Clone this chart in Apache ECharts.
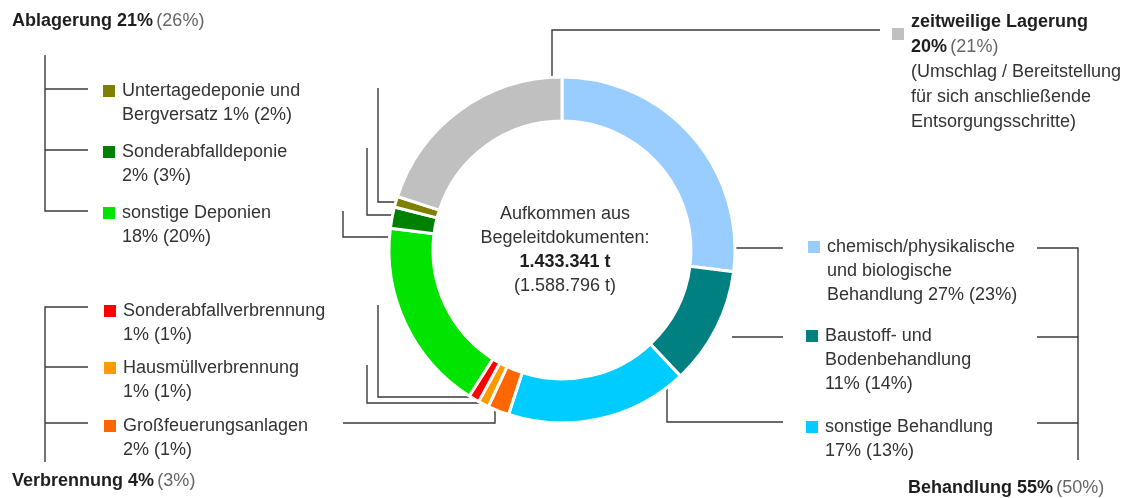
<!DOCTYPE html>
<html>
<head>
<meta charset="utf-8">
<script src="https://cdn.jsdelivr.net/npm/echarts@6/dist/echarts.min.js"></script>
<style>
  html, body { margin: 0; padding: 0; background: #fff; }
  #chart { width: 1131px; height: 498px; }
</style>
</head>
<body>
<div id="chart"></div>
<script>
// Anteile der Entsorgungswege (aktuelles Jahr, in Klammern Vorjahr)
var sliceNames = [
  'chemisch/physikalische und biologische Behandlung',
  'Baustoff- und Bodenbehandlung',
  'sonstige Behandlung',
  'Großfeuerungsanlagen',
  'Hausmüllverbrennung',
  'Sonderabfallverbrennung',
  'sonstige Deponien',
  'Sonderabfalldeponie',
  'Untertagedeponie und Bergversatz',
  'zeitweilige Lagerung'
];
var sliceShares = [27, 11, 17, 2, 1, 1, 18, 2, 1, 20];
var prevShares = [23, 14, 13, 1, 1, 1, 20, 3, 2, 21];
var sliceColors = ['#99ccff', '#008080', '#00ccff', '#ff6600', '#ff9900',
  '#ff0000', '#00e400', '#008000', '#808000', '#c0c0c0'];

// Zeilenumbrüche der Beschriftungen, {p} = Prozentangabe
var labelTemplates = [
  'chemisch/physikalische\nund biologische\nBehandlung {p}',
  'Baustoff- und\nBodenbehandlung\n{p}',
  'sonstige Behandlung\n{p}',
  'Großfeuerungsanlagen\n{p}',
  'Hausmüllverbrennung\n{p}',
  'Sonderabfallverbrennung\n{p}',
  'sonstige Deponien\n{p}',
  'Sonderabfalldeponie\n{p}',
  'Untertagedeponie und\nBergversatz {p}'
];

var groupNames = ['Behandlung', 'Verbrennung', 'Ablagerung'];
var groupShares = [55, 4, 21];
var groupPrev = [50, 3, 26];

var totalNow = '1.433.341 t';
var totalPrev = '1.588.796 t';
var storageNote = ['(Umschlag / Bereitstellung', 'für sich anschließende', 'Entsorgungsschritte)'];

var FONT = '"Liberation Sans", Arial, sans-serif';
var LH = 24;
var TXT = '#333333';
var LINE = '#3a3a3a';

var dom = document.getElementById('chart');
var myChart = echarts.init(dom);

function pct(i) {
  return sliceShares[i] + '% (' + prevShares[i] + '%)';
}

// Position der ersten Textzeile (x, Mitte y) für die Beschriftungen
var labelPos = [[827, 247], [825, 336], [825, 427], [123, 426], [123, 368],
  [123, 311], [122, 213], [122, 152], [122, 91]];

// Verbindungslinien Ring -> Beschriftung
var leaderLines = [
  [[735, 248], [783, 248]],
  [[732, 337], [783, 337]],
  [[667, 388], [667, 422], [783, 422]],
  [[343, 423], [495, 423], [495, 408]],
  [[367, 365], [367, 403], [483, 403]],
  [[378, 305], [378, 397], [470, 397]],
  [[343, 211], [343, 237], [390, 237]],
  [[367, 148], [367, 215], [392, 215]],
  [[378, 88], [378, 202], [399, 202]],
  [[552, 77], [552, 30], [880, 30]]
];

// Klammern der Gruppen
var brackets = [
  [[1037, 248], [1078, 248], [1078, 460]],
  [[1037, 337], [1078, 337]],
  [[1037, 423], [1078, 423]],
  [[88, 307], [45, 307], [45, 462]],
  [[88, 367], [45, 367]],
  [[88, 423], [45, 423]],
  [[45, 55], [45, 211], [88, 211]],
  [[45, 150], [88, 150]],
  [[45, 89], [88, 89]]
];

var graphics = [];

leaderLines.concat(brackets).forEach(function (pts) {
  graphics.push({
    type: 'polyline',
    shape: { points: pts },
    style: { stroke: LINE, lineWidth: 1.4, fill: null },
    silent: true
  });
});

labelTemplates.forEach(function (tpl, i) {
  var p = labelPos[i];
  graphics.push({
    type: 'rect',
    shape: { x: p[0] - 19, y: p[1] - 6, width: 12, height: 12 },
    style: { fill: sliceColors[i] }
  });
  graphics.push({
    type: 'text',
    x: p[0], y: p[1] - LH / 2,
    style: {
      text: tpl.replace('{p}', pct(i)),
      fontSize: 18, fontFamily: FONT, fill: TXT,
      lineHeight: LH, verticalAlign: 'top', align: 'left'
    }
  });
});

// zeitweilige Lagerung
graphics.push({
  type: 'rect',
  shape: { x: 892, y: 28, width: 12, height: 12 },
  style: { fill: sliceColors[9] }
});
graphics.push({
  type: 'text',
  x: 911, y: 22 - 12.5,
  style: {
    text: '{b|zeitweilige Lagerung}\n{b|' + sliceShares[9] + '%} {g|(' + prevShares[9] + '%)}\n' +
      storageNote.map(function (s) { return '{n|' + s + '}'; }).join('\n'),
    verticalAlign: 'top',
    rich: {
      b: { fontSize: 18, fontWeight: 'bold', fontFamily: FONT, fill: '#1e1e1e', lineHeight: 25 },
      g: { fontSize: 18, fontFamily: FONT, fill: '#666666', lineHeight: 25 },
      n: { fontSize: 18, fontFamily: FONT, fill: TXT, lineHeight: 25 }
    }
  }
});

// Gruppentitel
var groupTitlePos = [[908, 488], [12, 481], [12, 21]];
groupNames.forEach(function (g, i) {
  var p = groupTitlePos[i];
  graphics.push({
    type: 'text',
    x: p[0], y: p[1],
    style: {
      text: '{b|' + g + ' ' + groupShares[i] + '%} {g|(' + groupPrev[i] + '%)}',
      verticalAlign: 'middle',
      rich: {
        b: { fontSize: 18, fontWeight: 'bold', fontFamily: FONT, fill: '#1e1e1e' },
        g: { fontSize: 18, fontFamily: FONT, fill: '#666666' }
      }
    }
  });
});

// Mitte des Rings
graphics.push({
  type: 'text',
  x: 565, y: 214 - 12,
  style: {
    text: '{n|Aufkommen aus}\n{n|Begeleitdokumenten:}\n{b|' + totalNow + '}\n{n|(' + totalPrev + ')}',
    align: 'center', verticalAlign: 'top',
    rich: {
      n: { fontSize: 18, fontFamily: FONT, fill: TXT, lineHeight: 24, align: 'center' },
      b: { fontSize: 18, fontWeight: 'bold', fontFamily: FONT, fill: '#1e1e1e', lineHeight: 24, align: 'center' }
    }
  }
});

var option = {
  backgroundColor: '#ffffff',
  animation: false,
  series: [
    {
      type: 'pie',
      center: [562, 250],
      radius: [129, 173],
      startAngle: 90,
      clockwise: true,
      avoidLabelOverlap: false,
      label: { show: false },
      labelLine: { show: false },
      itemStyle: { borderColor: '#ffffff', borderWidth: 3 },
      data: sliceNames.map(function (n, i) {
        return { name: n, value: sliceShares[i], itemStyle: { color: sliceColors[i] } };
      })
    }
  ],
  graphic: graphics
};

if (option && typeof option === 'object') {
  myChart.setOption(option, true);
}
</script>
</body>
</html>
